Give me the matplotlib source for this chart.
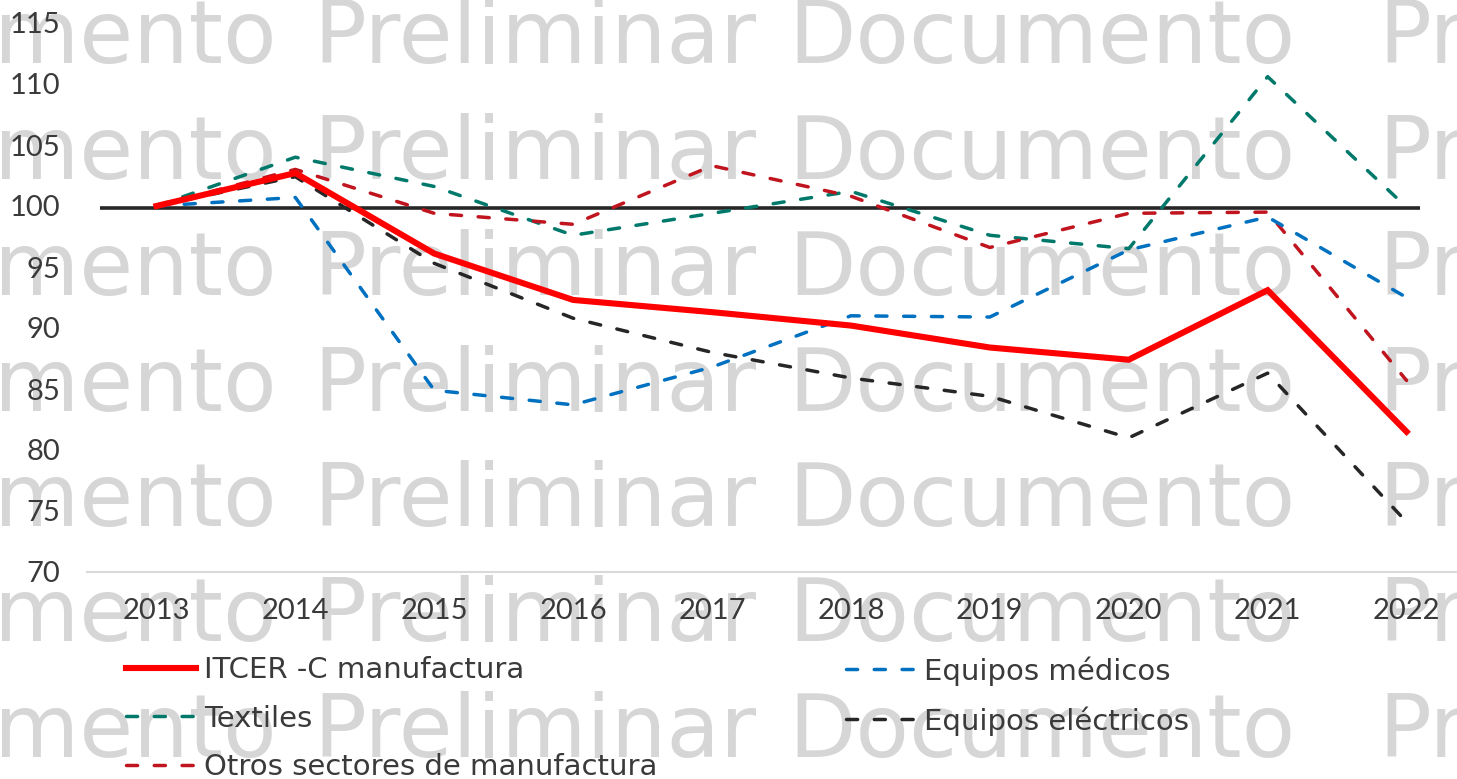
import matplotlib
matplotlib.use("Agg")
import matplotlib.pyplot as plt

# index 2013 = 100
years = [2013, 2014, 2015, 2016, 2017, 2018, 2019, 2020, 2021, 2022]
itcer = [100.0, 102.7, 96.1, 92.3, 91.3, 90.2, 88.4, 87.4, 93.1, 81.5]
textiles = [100.0, 104.0, 101.6, 97.6, 99.4, 101.2, 97.6, 96.5, 110.6, 99.9]
otros = [100.0, 103.0, 99.4, 98.5, 103.3, 100.8, 96.6, 99.4, 99.5, 85.7]
medicos = [100.0, 100.7, 84.9, 83.7, 86.8, 91.0, 90.9, 96.4, 99.1, 92.5]
electricos = [100.0, 102.4, 95.3, 90.8, 88.0, 85.9, 84.4, 81.0, 86.3, 74.1]
y_ticks = [70, 75, 80, 85, 90, 95, 100, 105, 110, 115]

W, H = 1457, 779
TICK_FONT = "Lato"
LEG_FONT = "DejaVu Sans"
TXT = "#3a3a3a"

fig = plt.figure(figsize=(W / 100, H / 100), dpi=100)
fig.patch.set_facecolor("white")

# watermark rows
for b in [63, 179, 295, 411, 526, 641, 757]:
    yy = 1 - b / H
    for word, x, ha in [("mento", 277, "right"), ("Preliminar", 313, "left"),
                        ("Documento", 788, "left"), ("Pr", 1378, "left")]:
        fig.text(x / W, yy, word, ha=ha, va="baseline", fontsize=63,
                 family="DejaVu Sans", color="#d6d6d6", zorder=-5)

# axes (right edge runs past the figure, as in the original)
left, right = 87, 1476
top, bottom = 23, 572
ax = fig.add_axes([left / W, 1 - bottom / H, (right - left) / W, (bottom - top) / H])
ax.patch.set_alpha(0)

ax.hlines(99.8, 2012.59, 2022.1, color="#262626", lw=2.6, zorder=2)

dash = (3.2, 4.8)
dkw = dict(lw=2.5, dashes=dash, dash_capstyle="round")
l_itcer, = ax.plot(years, itcer, color="#ff0000", lw=4.4, zorder=6,
                   solid_joinstyle="miter", label="ITCER -C manufactura")
l_tex, = ax.plot(years, textiles, color="#00796b", zorder=3, label="Textiles", **dkw)
l_otr, = ax.plot(years, otros, color="#c0141e", zorder=4,
                 label="Otros sectores de manufactura", **dkw)
l_med, = ax.plot(years, medicos, color="#0070c0", zorder=4, label="Equipos médicos", **dkw)
l_ele, = ax.plot(years, electricos, color="#262626", zorder=5,
                 label="Equipos eléctricos", **dkw)

ax.set_xlim(2012.5, 2022.5)
ax.set_ylim(70, 115)
ax.set_xticks(years)
ax.set_xticklabels([str(y) for y in years])
ax.set_yticks(y_ticks)
for s in ["top", "right", "left"]:
    ax.spines[s].set_visible(False)
ax.spines["bottom"].set_color("#d9d9d9")
ax.spines["bottom"].set_linewidth(1.5)
ax.tick_params(axis="both", length=0, labelsize=21, labelcolor=TXT)
ax.tick_params(axis="x", pad=19)
ax.tick_params(axis="y", pad=19)
for lab in ax.get_xticklabels() + ax.get_yticklabels():
    lab.set_family(TICK_FONT)

leg_kw = dict(frameon=False, handlelength=2.4, handletextpad=0.28,
              labelspacing=0.71, borderpad=0, borderaxespad=0, loc="upper left",
              prop={"family": LEG_FONT, "size": 21}, labelcolor=TXT)
fig.legend([l_itcer, l_tex, l_otr], [l.get_label() for l in (l_itcer, l_tex, l_otr)],
           bbox_to_anchor=(126 / W, 1 - 656 / H), **leg_kw)
fig.legend([l_med, l_ele], [l.get_label() for l in (l_med, l_ele)],
           bbox_to_anchor=(846 / W, 1 - 656 / H), **leg_kw)

fig.savefig("out.png", dpi=100, facecolor="white")
